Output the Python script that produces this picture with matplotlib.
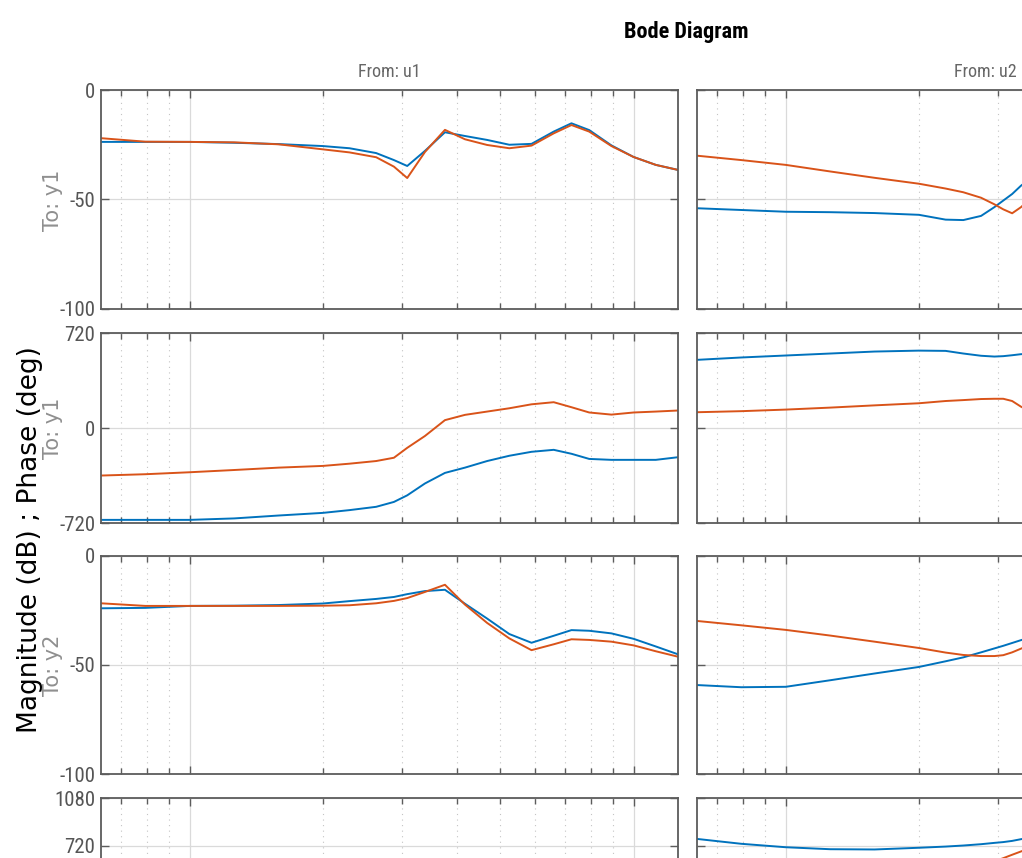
import matplotlib
matplotlib.use("Agg")
import matplotlib.pyplot as plt
from matplotlib.ticker import LogLocator, NullFormatter, FixedLocator

# ---------------------------------------------------------------- data
# frequency samples (rad/s) for the "From: u1" column
w_u1 = [0.631, 0.794, 1.0, 1.259, 1.585, 1.995, 2.291, 2.630, 2.884, 3.090,
        3.388, 3.758, 4.169, 4.677, 5.248, 5.888, 6.607, 7.244, 7.943, 8.913,
        10.0, 11.22, 12.59]
# frequency samples (rad/s) for the "From: u2" column
w_u2 = [0.631, 0.794, 1.0, 1.259, 1.585, 1.995, 2.291, 2.512, 2.754, 2.951,
        3.090, 3.236, 3.388, 3.631]

# u1 -> y1
mag_u1_y1_sys1 = [-23.7, -23.7, -23.7, -24.1, -24.7, -25.6, -26.6, -28.8, -32.0, -34.7,
                  -27.8, -19.3, -21.0, -22.8, -25.0, -24.6, -19.0, -15.2, -18.3, -25.3,
                  -30.6, -34.2, -36.5]
mag_u1_y1_sys2 = [-22.0, -23.6, -23.7, -23.9, -24.8, -27.1, -28.5, -30.7, -35.0, -40.2,
                  -28.3, -18.2, -22.5, -25.1, -26.6, -25.4, -19.8, -16.0, -19.0, -25.6,
                  -30.6, -34.2, -36.5]
ph_u1_y1_sys1 = [-696, -696, -696, -685, -663, -643, -622, -597, -560, -510,
                 -420, -340, -300, -250, -210, -180, -165, -195, -234, -241,
                 -241, -241, -221]
ph_u1_y1_sys2 = [-360, -350, -335, -318, -300, -287, -270, -250, -225, -150,
                 -60, 60, 100, 125, 150, 180, 196, 158, 118, 102,
                 118, 125, 133]

# u1 -> y2
mag_u1_y2_sys1 = [-24.0, -23.8, -22.9, -22.8, -22.5, -21.8, -20.7, -19.7, -18.8, -17.5,
                  -16.1, -15.5, -21.9, -28.7, -35.8, -39.8, -36.6, -34.0, -34.3, -35.5,
                  -38.0, -41.5, -45.1]
mag_u1_y2_sys2 = [-21.7, -22.9, -22.9, -22.9, -22.9, -22.8, -22.6, -21.7, -20.6, -19.3,
                  -16.5, -13.2, -22.3, -30.7, -37.8, -43.2, -40.5, -38.2, -38.5, -39.3,
                  -41.0, -43.7, -46.2]

# u2 -> y1
mag_u2_y1_sys1 = [-54.0, -54.8, -55.6, -55.8, -56.2, -57.0, -59.2, -59.4, -57.5, -53.5,
                  -50.5, -47.5, -43.7, -39.0]
mag_u2_y1_sys2 = [-30.0, -32.0, -34.2, -37.2, -40.1, -42.8, -45.0, -46.7, -49.2, -52.2,
                  -54.5, -56.3, -53.5, -48.0]
ph_u2_y1_sys1 = [517, 535, 550, 565, 580, 587, 585, 565, 548, 542, 545, 552, 560, 565]
ph_u2_y1_sys2 = [120, 128, 140, 155, 172, 188, 205, 212, 220, 222, 222, 205, 162, 110]

# u2 -> y2
mag_u2_y2_sys1 = [-59.2, -60.2, -60.0, -57.0, -53.9, -50.9, -48.3, -46.5, -44.2, -42.4,
                  -41.2, -39.9, -38.6, -36.8]
mag_u2_y2_sys2 = [-29.8, -31.8, -33.9, -36.5, -39.3, -42.2, -44.3, -45.4, -45.9, -45.9,
                  -45.5, -44.2, -42.5, -40.0]
ph_u2_y2_sys1 = [770, 733, 707, 692, 690, 703, 712, 720, 730, 740, 746, 755, 768, 785]
ph_u2_y2_sys2 = [480, 490, 500, 512, 525, 538, 548, 556, 570, 600, 624, 650, 675, 712]

mag_ticks = [-100, -50, 0]
ph1_ticks = [-720, 0, 720]
ph2_ticks = [720, 1080]
input_names = ["u1", "u2"]
output_names = ["y1", "y2"]

# ---------------------------------------------------------------- style
plt.rcParams["axes.unicode_minus"] = False
NARROW = ["Roboto Condensed", "Liberation Sans Narrow", "DejaVu Sans"]
BLUE = "#0072BD"
ORANGE = "#D95319"
EDGE = "#5c5c5c"
TICKTXT = "#555555"
XLIM = (10 ** -0.2, 10 ** 1.1)

fig = plt.figure(figsize=(10.22, 8.58), dpi=100)
fig.patch.set_facecolor("white")

col_x = [0.0988, 0.6820]
col_w = 0.5646
rows = [(0.6399, 0.2552), (0.3904, 0.2214), (0.0979, 0.2541), (-0.1515, 0.2214)]


def style_axes(ax, yticks, ylim, show_labels):
    ax.set_xscale("log")
    ax.set_xlim(*XLIM)
    ax.set_ylim(*ylim)
    ax.xaxis.set_major_locator(LogLocator(base=10, numticks=10))
    ax.xaxis.set_minor_locator(LogLocator(base=10, subs=range(2, 10), numticks=20))
    ax.xaxis.set_major_formatter(NullFormatter())
    ax.xaxis.set_minor_formatter(NullFormatter())
    ax.yaxis.set_major_locator(FixedLocator(yticks))
    ax.set_axisbelow(True)
    ax.grid(which="major", axis="both", color="#dadada", lw=0.9, ls="-")
    ax.grid(which="minor", axis="x", color="#c4c4c4", lw=0.8, ls=(0, (1, 4)))
    for sp in ax.spines.values():
        sp.set_color(EDGE)
        sp.set_linewidth(1.3)
    ax.tick_params(which="both", direction="in", top=True, right=True,
                   color=EDGE, width=1.0)
    ax.tick_params(which="major", length=6)
    ax.tick_params(which="minor", length=4)
    ax.tick_params(axis="y", labelleft=show_labels, labelsize=15,
                   labelcolor=TICKTXT, pad=4)
    if show_labels:
        for lab in ax.get_yticklabels():
            lab.set_family(NARROW)
            lab.set_stretch("condensed")


panels = {
    (0, 0): (w_u1, mag_u1_y1_sys1, mag_u1_y1_sys2, mag_ticks, (-100, 0)),
    (1, 0): (w_u1, ph_u1_y1_sys1, ph_u1_y1_sys2, ph1_ticks, (-720, 720)),
    (2, 0): (w_u1, mag_u1_y2_sys1, mag_u1_y2_sys2, mag_ticks, (-100, 0)),
    (3, 0): (None, None, None, ph2_ticks, (-360, 1080)),
    (0, 1): (w_u2, mag_u2_y1_sys1, mag_u2_y1_sys2, mag_ticks, (-100, 0)),
    (1, 1): (w_u2, ph_u2_y1_sys1, ph_u2_y1_sys2, ph1_ticks, (-720, 720)),
    (2, 1): (w_u2, mag_u2_y2_sys1, mag_u2_y2_sys2, mag_ticks, (-100, 0)),
    (3, 1): (w_u2, ph_u2_y2_sys1, ph_u2_y2_sys2, ph2_ticks, (-360, 1080)),
}

for (r, c), (w, s1, s2, yt, yl) in panels.items():
    bottom, height = rows[r]
    ax = fig.add_axes([col_x[c], bottom, col_w, height])
    if w is not None:
        ax.plot(w, s1, color=BLUE, lw=1.4, solid_joinstyle="round")
        ax.plot(w, s2, color=ORANGE, lw=1.4, solid_joinstyle="round")
    style_axes(ax, yt, yl, show_labels=(c == 0))

# ---------------------------------------------------------------- text
fig.text(0.671, 0.9627, "Bode Diagram", ha="center", va="center",
         fontsize=16, fontweight="bold", family=NARROW, fontstretch="condensed",
         color="black")
for c, name in enumerate(input_names):
    fig.text(col_x[c] + col_w / 2, 0.916, f"From: {name}", ha="center", va="center",
             fontsize=13, family=NARROW, fontstretch="condensed", color="#666666")

for r, y in [(0, 0.7669), (1, 0.5012), (2, 0.2249)]:
    fig.text(0.052, y, f"To: {output_names[r // 2]}", rotation=90, ha="center",
             va="center", fontsize=15, family="DejaVu Sans", color="#8f8f8f")

fig.text(0.029, 0.3706, "Magnitude (dB) ; Phase (deg)", rotation=90,
         ha="center", va="center", fontsize=19, family="DejaVu Sans", color="black")

fig.savefig("out.png", dpi=100, facecolor="white")
